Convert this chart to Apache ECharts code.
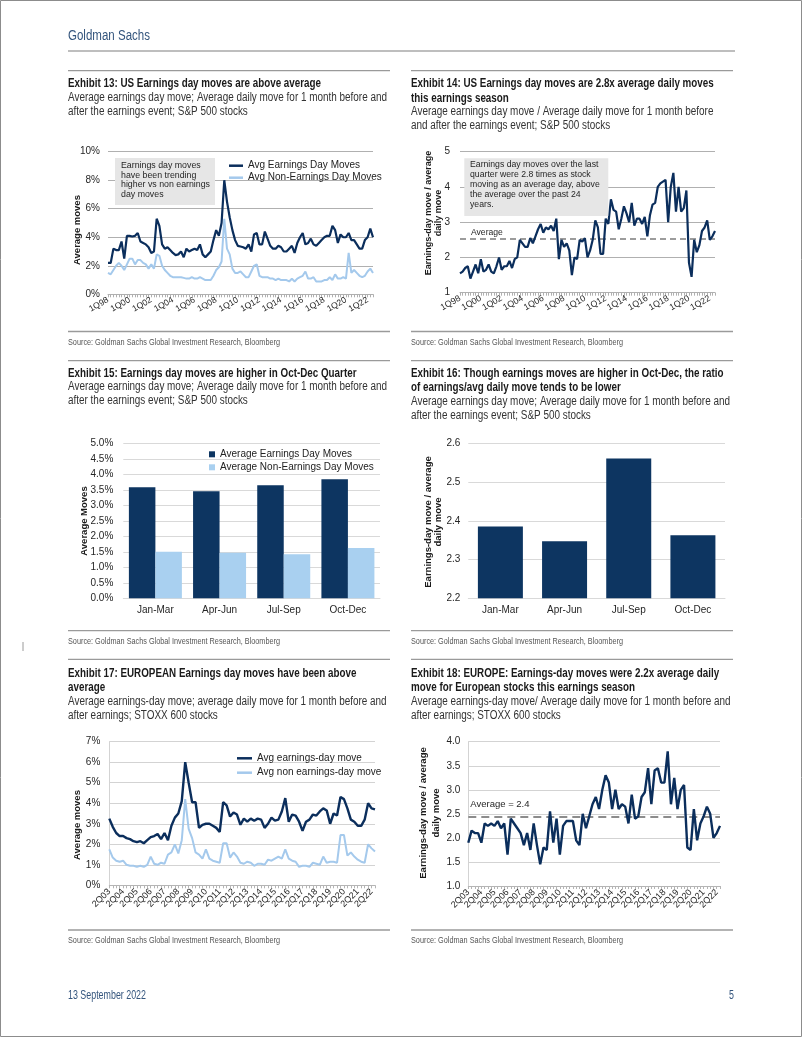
<!DOCTYPE html>
<html><head><meta charset="utf-8">
<script src="https://cdn.jsdelivr.net/npm/echarts@6/dist/echarts.min.js"></script>
<style>html,body{margin:0;padding:0;background:#fff}#c{width:802px;height:1037px}</style>
</head><body><div id="c"></div><script>
// ---------------- DATA ----------------
// Exhibit 13: US average earnings-day move vs non-earnings-day move (%), quarterly from 1Q98
const usEarnDay = [2.2,2.2,3.2,3.1,3.1,3.7,2.5,4.1,4.1,4.05,4.1,4.3,3.7,3.6,3.5,3.3,2.9,3.0,5.3,4.8,
  3.5,3.2,3.3,3.1,2.9,2.75,2.8,3.0,2.6,3.2,3.0,3.1,3.2,3.1,3.5,2.8,2.6,2.8,3.0,3.8,
  4.5,4.1,5.0,8.0,6.5,5.4,4.5,3.8,3.4,3.35,3.3,3.2,3.5,3.0,4.2,4.3,3.5,3.5,4.4,3.9,
  3.4,3.2,3.2,3.4,3.3,3.0,3.0,3.2,3.4,2.9,3.6,4.0,4.3,3.5,3.6,3.9,3.5,3.4,3.6,3.8,
  4.0,4.1,4.1,4.8,4.5,3.6,4.2,4.0,4.0,4.3,3.8,3.8,3.5,3.2,3.2,3.8,4.0,4.6,4.0];
const usNonEarnDay = [1.5,1.4,1.7,2.0,2.2,2.0,1.7,2.1,2.5,2.5,2.1,2.4,2.4,2.2,2.1,1.8,2.1,1.8,2.8,2.7,
  2.0,1.7,1.5,1.3,1.2,1.2,1.2,1.2,1.15,1.1,1.1,1.2,1.1,1.1,1.2,1.1,1.0,1.0,1.0,1.3,
  1.7,1.9,2.3,5.3,3.2,2.8,1.8,1.5,1.5,1.6,1.4,1.2,1.2,1.6,2.0,2.1,1.3,1.2,1.2,1.2,
  1.1,1.1,1.0,1.1,1.0,1.0,1.0,0.9,1.1,0.9,1.1,1.2,1.3,1.6,1.1,1.1,1.2,0.9,0.9,0.9,
  1.0,1.0,1.2,1.0,1.4,1.1,1.1,1.2,1.1,2.9,1.5,1.7,1.5,1.3,1.2,1.3,1.6,1.8,1.5];
// Exhibit 14: US earnings-day move / average daily move
const usRatio = [1.55,1.6,1.7,1.75,1.4,1.6,1.8,1.55,1.95,1.6,1.65,1.8,1.6,1.55,1.75,2.0,1.65,1.75,1.75,1.9,
  1.7,1.95,2.0,2.5,2.4,2.3,2.3,2.55,2.4,2.6,2.8,2.95,2.7,2.85,2.8,2.9,2.75,3.1,1.95,2.5,
  2.3,2.4,2.2,1.5,2.0,1.95,2.5,2.45,2.55,2.0,2.2,2.5,3.05,2.85,2.1,2.1,3.1,2.95,3.65,3.35,
  3.3,2.8,3.1,3.45,3.25,3.0,3.55,2.9,3.1,3.1,2.95,3.15,2.6,3.2,3.5,3.55,4.0,4.1,4.15,4.2,
  3.0,4.0,4.4,3.3,4.0,3.3,3.4,3.9,1.85,1.45,2.5,2.15,2.35,2.75,2.85,3.05,2.5,2.6,2.75];
const usRatioAverage = 2.53;
// Exhibits 15/16: by calendar quarter
const qtrCategories = ['Jan-Mar','Apr-Jun','Jul-Sep','Oct-Dec'];
const qtrEarnDay = [3.58,3.45,3.65,3.84];
const qtrNonEarnDay = [1.50,1.47,1.42,1.62];
const qtrRatio = [2.385,2.347,2.561,2.363];
// Exhibit 17: Europe, quarterly from 2Q03
const euEarnDay = [3.25,2.85,2.55,2.4,2.4,2.3,2.25,2.15,2.1,2.15,2.05,2.2,2.35,2.4,2.5,2.25,2.55,2.2,2.9,3.3,
  3.5,4.1,6.0,5.0,4.05,4.05,2.8,2.95,3.0,3.0,2.9,2.8,2.6,4.05,3.9,3.35,3.55,3.45,2.95,3.25,
  3.1,3.25,3.15,3.25,3.2,2.8,3.0,3.3,3.15,3.2,3.6,4.25,3.1,3.45,3.4,3.1,2.65,3.1,3.2,3.45,
  3.4,3.6,3.75,3.65,3.0,3.5,3.4,4.3,4.2,3.75,3.2,3.1,2.9,2.9,3.2,4.0,3.75,3.7];
const euNonEarnDay = [1.75,1.35,1.2,1.15,1.2,1.0,0.95,0.95,0.9,0.95,0.9,1.0,1.4,1.05,1.0,1.1,1.05,1.5,1.6,2.0,
  1.55,2.2,4.2,2.75,2.3,1.6,1.5,1.3,1.75,1.3,1.2,1.15,1.1,2.05,2.05,1.35,1.6,1.4,1.1,1.05,
  1.15,1.1,0.95,1.05,1.05,1.0,1.25,1.2,1.3,1.4,1.3,1.75,1.3,1.2,1.15,0.9,0.95,0.95,0.9,1.1,
  1.05,1.0,1.4,1.1,1.15,1.15,1.1,2.45,2.45,1.45,1.6,1.4,1.25,1.15,1.1,2.0,1.8,1.65];
// Exhibit 18: Europe ratio
const euRatio = [1.9,2.15,2.1,2.1,1.9,2.3,2.25,2.3,2.25,2.35,2.2,2.3,1.65,2.4,2.3,2.2,2.1,1.85,2.1,1.75,
  2.3,1.85,1.45,1.8,1.75,2.55,1.9,2.4,1.65,2.25,2.35,2.35,2.35,1.95,1.85,2.5,2.2,2.45,2.7,2.85,
  2.6,3.0,3.3,3.15,2.6,3.0,2.6,2.7,2.65,2.3,2.9,2.4,2.45,2.85,2.95,3.45,2.7,3.4,3.45,3.15,
  3.15,3.8,2.7,3.25,2.6,3.0,3.1,1.8,1.75,2.6,1.95,2.3,2.45,2.65,2.5,2.0,2.1,2.25];
const euRatioAverage = 2.43;

function quarterLabels(q, yr, n) {
  const out = [];
  for (let i = 0; i < n; i++) {
    out.push(q + 'Q' + String(yr % 100).padStart(2, '0'));
    q++; if (q > 4) { q = 1; yr++; }
  }
  return out;
}
const usQuarters = quarterLabels(1, 1998, usEarnDay.length);
const euQuarters = quarterLabels(2, 2003, euEarnDay.length);

// ---------------- STYLE ----------------
const DARK = '#0b2e5c', LIGHT = '#a4c9ec';
const SANS = '"Liberation Sans", Arial, sans-serif';
const TXT = '#262626';
const _ctx = document.createElement('canvas').getContext('2d');
function measure(s, st) {
  _ctx.font = (st.fontWeight || 'normal') + ' ' + st.fontSize + 'px ' + st.fontFamily;
  return _ctx.measureText(s).width;
}
function mkStyle(base, refText, refWidth) {
  const st = Object.assign({ fontFamily: SANS }, base);
  st.__sx = refWidth / measure(refText, st);
  return st;
}
const SRC = 'Source: Goldman Sachs Global Investment Research, Bloomberg';
const sTitle = mkStyle({ fontWeight: 'bold', fill: '#1a1a1a', fontSize: 12.5 }, 'Exhibit 13: US Earnings day moves are above average', 253);
const sSub = mkStyle({ fill: '#333', fontSize: 12.3 }, 'Average earnings day move; Average daily move for 1 month before and', 319);
const sSrc = mkStyle({ fill: '#555', fontSize: 9.5 }, SRC, 212);
const sBrand = mkStyle({ fill: '#34557d', fontSize: 14 }, 'Goldman Sachs', 82);
const sFoot = mkStyle({ fill: '#34557d', fontSize: 12.5 }, '13 September 2022', 78);

function T(x, y, s, o) {
  o = o || {};
  const sx = o.__sx || 1;
  const st = Object.assign({ text: s, fill: TXT, fontSize: 12, fontFamily: SANS, align: 'left', verticalAlign: 'middle' }, o);
  delete st.__sx;
  return { type: 'text', x: x, y: y, scaleX: sx, silent: true, z: 100, style: st };
}
function RT(x, y, s, o) {
  const t = T(x, y, s, Object.assign({ align: 'center', fontFamily: SANS, fontWeight: 'bold', fontSize: 9.5, fill: '#1a1a1a' }, o || {}));
  t.rotation = Math.PI / 2; return t;
}
function L(x1, y1, x2, y2, c, w) {
  return { type: 'line', silent: true, z: 100, shape: { x1, y1, x2, y2 }, style: { stroke: c || '#9a9a9a', lineWidth: w || 1.3 } };
}
const LX = 68, RX = 411;
const ann13 = { fontFamily: SANS, fontSize: 8.8 };
const ann14 = { fontFamily: SANS, fontSize: 8.7 };

const graphic = [
  { type: 'rect', silent: true, shape: { x: 0.5, y: 0.5, width: 801, height: 1036 }, style: { fill: 'none', stroke: '#8c8c8c', lineWidth: 1 } },
  T(LX, 36, 'Goldman Sachs', sBrand),
  L(68, 51, 735, 51, '#a8a8a8', 1.5),
  // row 1
  L(68, 70.7, 390, 70.7), L(411, 70.7, 733, 70.7),
  T(LX, 83.3, 'Exhibit 13: US Earnings day moves are above average', sTitle),
  T(LX, 97.7, 'Average earnings day move; Average daily move for 1 month before and', sSub),
  T(LX, 111.3, 'after the earnings event; S&P 500 stocks', sSub),
  T(RX, 83.3, 'Exhibit 14: US Earnings day moves are 2.8x average daily moves', sTitle),
  T(RX, 98.3, 'this earnings season', sTitle),
  T(RX, 111.7, 'Average earnings day move / Average daily move for 1 month before', sSub),
  T(RX, 126, 'and after the earnings event; S&P 500 stocks', sSub),
  L(68, 331.5, 390, 331.5), L(411, 331.5, 733, 331.5),
  T(LX, 342.5, SRC, sSrc), T(RX, 342.5, SRC, sSrc),
  // row 2
  L(68, 360.7, 390, 360.7), L(411, 360.7, 733, 360.7),
  T(LX, 373.3, 'Exhibit 15: Earnings day moves are higher in Oct-Dec Quarter', sTitle),
  T(LX, 386.7, 'Average earnings day move; Average daily move for 1 month before and', sSub),
  T(LX, 400.5, 'after the earnings event; S&P 500 stocks', sSub),
  T(RX, 373.3, 'Exhibit 16: Though earnings moves are higher in Oct-Dec, the ratio', sTitle),
  T(RX, 387.7, 'of earnings/avg daily move tends to be lower', sTitle),
  T(RX, 401.5, 'Average earnings day move; Average daily move for 1 month before and', sSub),
  T(RX, 415.5, 'after the earnings event; S&P 500 stocks', sSub),
  L(68, 630.7, 390, 630.7), L(411, 630.7, 733, 630.7),
  T(LX, 641.2, SRC, sSrc), T(RX, 641.2, SRC, sSrc),
  L(23, 642, 23, 651, '#9a9a9a', 1),
  // row 3
  L(68, 659.3, 390, 659.3), L(411, 659.3, 733, 659.3),
  T(LX, 673.3, 'Exhibit 17: EUROPEAN Earnings day moves have been above', sTitle),
  T(LX, 687.7, 'average', sTitle),
  T(LX, 701.7, 'Average earnings-day move; average daily move for 1 month before and', sSub),
  T(LX, 715.3, 'after earnings; STOXX 600 stocks', sSub),
  T(RX, 673.3, 'Exhibit 18: EUROPE: Earnings-day moves were 2.2x average daily', sTitle),
  T(RX, 687.7, 'move for European stocks this earnings season', sTitle),
  T(RX, 701.7, 'Average earnings-day move/ Average daily move for 1 month before and', sSub),
  T(RX, 715.3, 'after earnings; STOXX 600 stocks', sSub),
  L(68, 930, 390, 930), L(411, 930, 733, 930),
  T(LX, 940.3, SRC, sSrc), T(RX, 940.3, SRC, sSrc),
  // footer
  T(LX, 996, '13 September 2022', sFoot),
  T(734, 996, '5', Object.assign({}, sFoot, { align: 'right', __sx: sFoot.__sx })),
  // axis names
  RT(77.5, 230, 'Average moves'),
  RT(428.3, 213, 'Earnings-day move / average', { fontSize: 9 }),
  RT(438.8, 213, 'daily move', { fontSize: 9 }),
  RT(84, 521, 'Average Moves'),
  RT(428.3, 522, 'Earnings-day move / average'),
  RT(438.8, 522, 'daily move'),
  RT(77, 825, 'Average moves'),
  RT(423.5, 813, 'Earnings-day move / average'),
  RT(436.5, 813, 'daily move'),
  // annotation boxes
  { type: 'rect', silent: true, z: 90, shape: { x: 115, y: 158, width: 100, height: 47 }, style: { fill: '#e6e6e6' } },
  T(121, 166, 'Earnings day moves', ann13),
  T(121, 175.4, 'have been trending', ann13),
  T(121, 184.8, 'higher vs non earnings', ann13),
  T(121, 194.2, 'day moves', ann13),
  { type: 'rect', silent: true, z: 90, shape: { x: 464.3, y: 158.3, width: 144, height: 57.7 }, style: { fill: '#e6e6e6' } },
  T(470, 165, 'Earnings day moves over the last', ann14),
  T(470, 174.8, 'quarter were 2.8 times as stock', ann14),
  T(470, 184.5, 'moving as an average day, above', ann14),
  T(470, 194.3, 'the average over the past 24', ann14),
  T(470, 204.2, 'years.', ann14)
];

// ---------------- AXES ----------------
const tickLbl = { color: TXT, fontSize: 10, fontFamily: SANS };
function lineX(gi, cats, every, rot, gridCol, fs) {
  return { gridIndex: gi, type: 'category', data: cats, boundaryGap: false,
    axisLine: { lineStyle: { color: gridCol, width: 1 } },
    axisTick: { show: true, interval: 0, length: 3, lineStyle: { color: gridCol } },
    axisLabel: { interval: (idx) => idx % every === 0, showMinLabel: true, showMaxLabel: true,
      rotate: rot, fontSize: fs || 9, color: TXT, fontFamily: SANS, margin: 5 },
    splitLine: { show: false } };
}
function valY(gi, min, max, iv, fmt, gridCol, margin, showLine) {
  return { gridIndex: gi, type: 'value', min, max, interval: iv,
    axisLine: { show: !!showLine, lineStyle: { color: gridCol } }, axisTick: { show: false },
    axisLabel: Object.assign({ formatter: fmt, margin: margin }, tickLbl),
    splitLine: { lineStyle: { color: gridCol, width: 1 } } };
}
const pct0 = v => Math.round(v) + '%';
const pct1 = v => v.toFixed(1) + '%';
const f1 = v => v.toFixed(1);
const f0 = v => String(Math.round(v));

const option = {
  animation: false,
  backgroundColor: '#fff',
  graphic: graphic,
  grid: [
    { left: 108, top: 151.7, width: 265, height: 142.6 },
    { left: 460, top: 151.7, width: 255, height: 141 },
    { left: 123.3, top: 443.3, width: 256.7, height: 155 },
    { left: 468.3, top: 443.3, width: 256.7, height: 155 },
    { left: 109.3, top: 741.7, width: 265.7, height: 143.6 },
    { left: 468.3, top: 741.7, width: 251.7, height: 144.3 }
  ],
  xAxis: [
    lineX(0, usQuarters, 8, 30, '#b0b0b0', 8.6),
    lineX(1, usQuarters, 8, 30, '#b0b0b0', 8.8),
    { gridIndex: 2, type: 'category', data: qtrCategories, axisTick: { show: false },
      axisLine: { lineStyle: { color: '#d9d9d9' } }, axisLabel: Object.assign({ margin: 7 }, tickLbl) },
    { gridIndex: 3, type: 'category', data: qtrCategories, axisTick: { show: false },
      axisLine: { lineStyle: { color: '#d9d9d9' } }, axisLabel: Object.assign({ margin: 7 }, tickLbl) },
    lineX(4, euQuarters, 4, 45, '#b5b5b5'),
    lineX(5, euQuarters, 4, 45, '#b5b5b5')
  ],
  yAxis: [
    valY(0, 0, 10, 2, pct0, '#b0b0b0', 8),
    valY(1, 1, 5, 1, f0, '#b0b0b0', 10),
    valY(2, 0, 5, 0.5, pct1, '#d9d9d9', 10),
    valY(3, 2.2, 2.6, 0.1, f1, '#d9d9d9', 8),
    valY(4, 0, 7, 1, pct0, '#d3d3d3', 9, true),
    valY(5, 1, 4, 0.5, f1, '#d3d3d3', 8, true)
  ],
  legend: [
    { data: ['Avg Earnings Day Moves', 'Avg Non-Earnings Day Moves'], orient: 'vertical', left: 224, top: 155.7,
      icon: 'rect', itemWidth: 14, itemHeight: 2.5, itemGap: 2, selectedMode: false,
      textStyle: { fontSize: 10, color: '#222', fontFamily: SANS } },
    { data: ['Average Earnings Day Moves', 'Average Non-Earnings Day Moves'], orient: 'vertical', left: 204, top: 444.3,
      icon: 'rect', itemWidth: 6, itemHeight: 6, itemGap: 3, selectedMode: false,
      textStyle: { fontSize: 10, color: '#222', fontFamily: SANS } },
    { data: ['Avg earnings-day move', 'Avg non earnings-day move'], orient: 'vertical', left: 232, top: 748.3,
      icon: 'rect', itemWidth: 15, itemHeight: 2.5, itemGap: 4.4, selectedMode: false,
      textStyle: { fontSize: 10, color: '#222', fontFamily: SANS } }
  ],
  series: [
    { name: 'Avg Non-Earnings Day Moves', type: 'line', xAxisIndex: 0, yAxisIndex: 0, data: usNonEarnDay,
      showSymbol: false, color: LIGHT, lineStyle: { width: 2, color: LIGHT }, z: 2 },
    { name: 'Avg Earnings Day Moves', type: 'line', xAxisIndex: 0, yAxisIndex: 0, data: usEarnDay,
      showSymbol: false, color: DARK, lineStyle: { width: 2.2, color: DARK }, z: 3 },
    { name: 'US ratio', type: 'line', xAxisIndex: 1, yAxisIndex: 1, data: usRatio,
      showSymbol: false, color: DARK, lineStyle: { width: 2.2, color: DARK }, z: 3,
      markLine: { silent: true, symbol: ['none', 'none'], z: 2,
        lineStyle: { type: [6, 4], color: '#9c9c9c', width: 1.8 },
        label: { show: true, position: 'insideStartTop', formatter: 'Average', distance: [11, 2],
          fontSize: 8.6, color: '#262626', fontFamily: SANS },
        data: [{ yAxis: usRatioAverage }] } },
    { name: 'Average Earnings Day Moves', type: 'bar', xAxisIndex: 2, yAxisIndex: 2, data: qtrEarnDay,
      color: '#0d3561', itemStyle: { color: '#0d3561' }, barWidth: 26.5, barGap: '0%' },
    { name: 'Average Non-Earnings Day Moves', type: 'bar', xAxisIndex: 2, yAxisIndex: 2, data: qtrNonEarnDay,
      color: '#a9d0f0', itemStyle: { color: '#a9d0f0' }, barWidth: 26.5, barGap: '0%' },
    { name: 'Ratio by quarter', type: 'bar', xAxisIndex: 3, yAxisIndex: 3, data: qtrRatio,
      itemStyle: { color: '#0d3561' }, barWidth: 45 },
    { name: 'Avg non earnings-day move', type: 'line', xAxisIndex: 4, yAxisIndex: 4, data: euNonEarnDay,
      showSymbol: false, color: LIGHT, lineStyle: { width: 2, color: LIGHT }, z: 2 },
    { name: 'Avg earnings-day move', type: 'line', xAxisIndex: 4, yAxisIndex: 4, data: euEarnDay,
      showSymbol: false, color: DARK, lineStyle: { width: 2.4, color: DARK }, z: 3 },
    { name: 'Europe ratio', type: 'line', xAxisIndex: 5, yAxisIndex: 5, data: euRatio,
      showSymbol: false, color: DARK, lineStyle: { width: 2.4, color: DARK }, z: 3,
      markLine: { silent: true, symbol: ['none', 'none'], z: 2,
        lineStyle: { type: [8, 5], color: '#8c8c8c', width: 1.8 },
        label: { show: true, position: 'insideStartTop', formatter: 'Average = 2.4', distance: [2, 8],
          fontSize: 9.5, color: '#262626', fontFamily: SANS },
        data: [{ yAxis: euRatioAverage }] } }
  ]
};
const chart = echarts.init(document.getElementById('c'), null, { renderer: 'canvas' });
chart.setOption(option);
</script></body></html>
